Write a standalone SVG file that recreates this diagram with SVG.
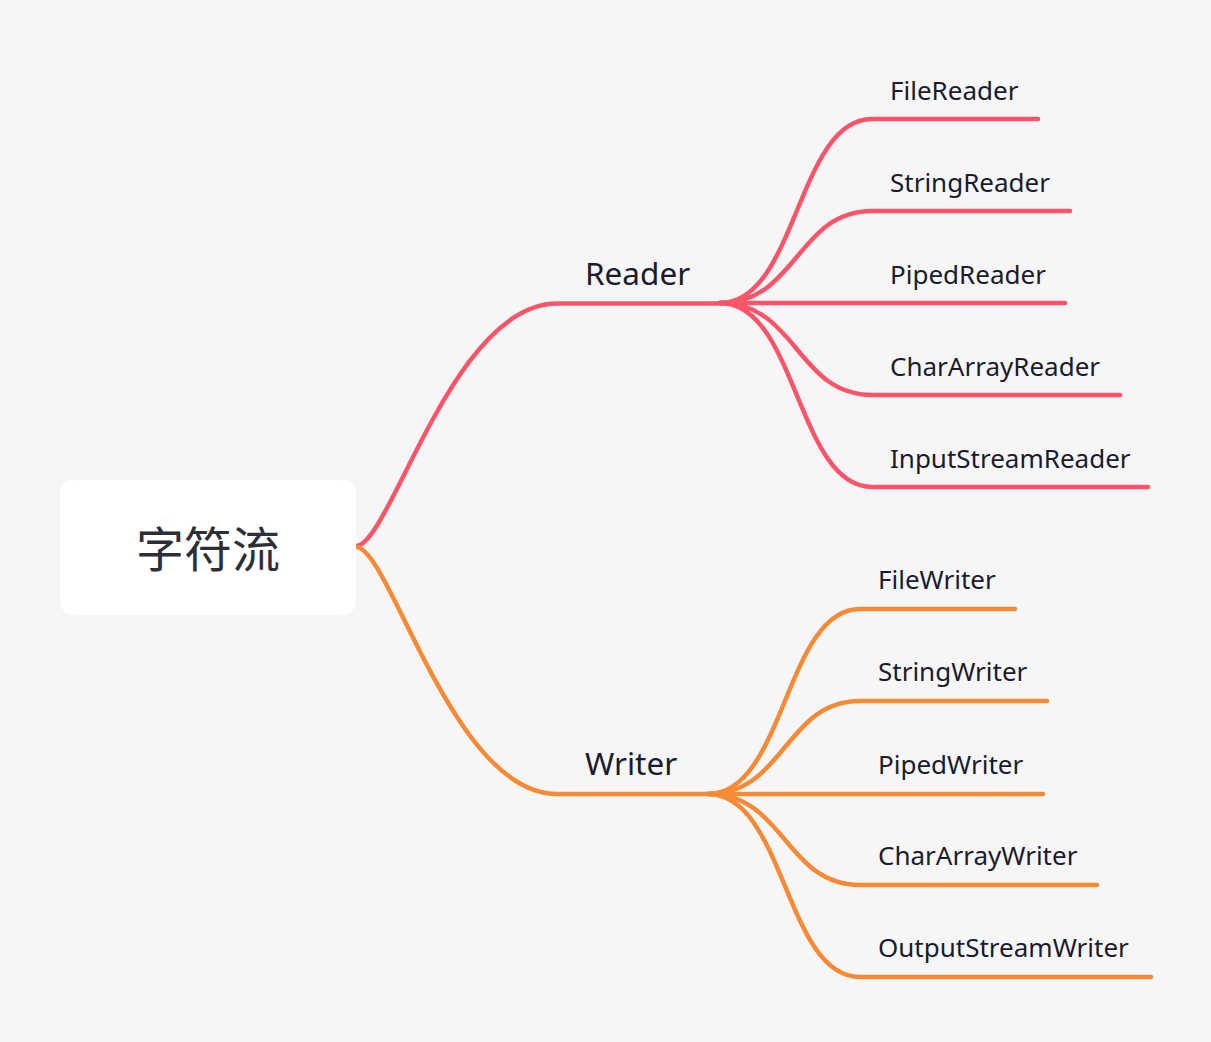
<svg xmlns="http://www.w3.org/2000/svg" width="1211" height="1042" viewBox="0 0 1211 1042">
<style>
.bg{fill:#f6f6f6}
.root{fill:#ffffff}
.rt{font-family:"Noto Sans CJK SC","Noto Sans",sans-serif;font-size:48px;fill:#2c2f36}
.l1{font-family:"Noto Sans","Liberation Sans",sans-serif;font-size:31.5px;fill:#1b1a2e}
.l2{font-family:"Noto Sans","Liberation Sans",sans-serif;font-size:26px;fill:#1b1a2e}
.c{fill:none;stroke-width:4.5;stroke-linecap:round;stroke-linejoin:round}
.red{stroke:#fc5569}
.org{stroke:#f78a36}
</style>
<rect class="bg" x="0" y="0" width="1211" height="1042"/>
<g id="connectors">
  <path class="c red" d="M356,546 C390,546 452,303.5 557,303.5 L720,303.5"/>
  <path class="c org" d="M356,547 C390,547 452,794 557,794 L708,794"/>
  <path class="c red" d="M720,303 C797,303 797,119 872,119 L1038,119"/>
  <path class="c red" d="M720,303 C797,303 797,211 872,211 L1070,211"/>
  <path class="c red" d="M720,303 L1065,303"/>
  <path class="c red" d="M720,303 C797,303 797,395 872,395 L1120,395"/>
  <path class="c red" d="M720,303 C797,303 797,487 872,487 L1148,487"/>
  <path class="c org" d="M708,794 C785,794 785,609 860,609 L1015,609"/>
  <path class="c org" d="M708,794 C785,794 785,701 860,701 L1047,701"/>
  <path class="c org" d="M708,794 L1043,794"/>
  <path class="c org" d="M708,794 C785,794 785,885 860,885 L1097,885"/>
  <path class="c org" d="M708,794 C785,794 785,977 860,977 L1151,977"/>
</g>
<g id="root"><rect class="root" x="60" y="480" width="296" height="135" rx="14"/><text class="rt" x="208" y="567" text-anchor="middle">字符流</text></g>
<g id="reader"><text class="l1" x="585" y="285">Reader</text></g>
<g id="writer"><text class="l1" x="585" y="775">Writer</text></g>
<g id="filereader"><text class="l2" x="890" y="99.5">FileReader</text></g>
<g id="stringreader"><text class="l2" x="890" y="191.5">StringReader</text></g>
<g id="pipedreader"><text class="l2" x="890" y="283.5">PipedReader</text></g>
<g id="chararrayreader"><text class="l2" x="890" y="375.5">CharArrayReader</text></g>
<g id="inputstreamreader"><text class="l2" x="890" y="467.5">InputStreamReader</text></g>
<g id="filewriter"><text class="l2" x="878" y="589">FileWriter</text></g>
<g id="stringwriter"><text class="l2" x="878" y="681">StringWriter</text></g>
<g id="pipedwriter"><text class="l2" x="878" y="774">PipedWriter</text></g>
<g id="chararraywriter"><text class="l2" x="878" y="865">CharArrayWriter</text></g>
<g id="outputstreamwriter"><text class="l2" x="878" y="957">OutputStreamWriter</text></g>
</svg>
